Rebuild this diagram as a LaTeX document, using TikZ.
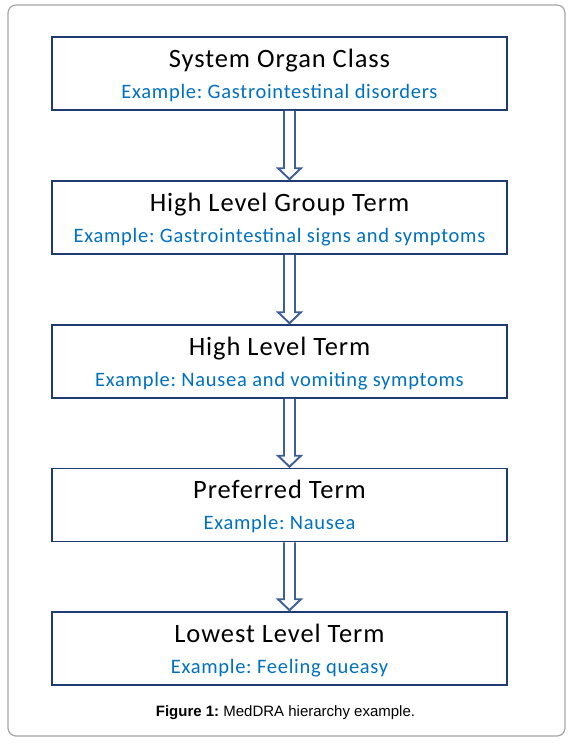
\documentclass[tikz,border=0pt]{standalone}
\usepackage{fontspec}
\setmainfont{Carlito}
\newfontfamily\spacedfont[LetterSpace=3.5]{Carlito}
\newfontfamily\capfont{Liberation Sans}
\usetikzlibrary{calc}
\frenchspacing
\definecolor{boxblue}{HTML}{1F3B73}
\definecolor{arrowblue}{HTML}{3C5F97}
\definecolor{exblue}{HTML}{0070C0}
\definecolor{framegray}{HTML}{A6A6A6}
\tikzset{
  levelbox/.style={draw=boxblue, line width=1.6pt, minimum width=455pt, minimum height=73pt, inner sep=0pt},
  titletext/.style={font=\spacedfont\fontsize{26.5}{30}\selectfont\frenchspacing, text=black, inner sep=0pt, anchor=base},
  extext/.style={font=\spacedfont\fontsize{20.5}{23}\selectfont\frenchspacing, text=exblue, inner sep=0pt, anchor=base},
  blockarrow/.style={draw=arrowblue, line width=1.9pt, fill=white, line join=miter},
}
\newcommand{\blockarr}[2]{%
  \draw[blockarrow] ($(#1.south)+(4.5,0)$) -- ($(#2.north)+(4.5,-12)$) -- ($(#2.north)+(-1.5,-12)$)
    -- ($(#2.north)+(10,-1)$) -- ($(#2.north)+(21.5,-12)$) -- ($(#2.north)+(15.5,-12)$)
    -- ($(#1.south)+(15.5,0)$);}
\begin{document}
\begin{tikzpicture}[x=1pt,y=-1pt]
\useasboundingbox (0,0) rectangle (572,744);
\draw[framegray, line width=1.2pt, rounded corners=8pt] (8,5) rectangle (565,736);
\node[levelbox] (b1) at (279.5,73.5) {};
\node[levelbox] (b2) at (279.5,217.5) {};
\node[levelbox] (b3) at (279.5,361.5) {};
\node[levelbox] (b4) at (279.5,505) {};
\node[levelbox] (b5) at (279.5,648.5) {};
\node[titletext] (t1) at (279.5,67) {System Organ Class};
\node[extext] (e1) at (279.5,98) {Example: Gastrointestinal disorders};
\node[titletext] (t2) at (279.5,211) {High Level Group Term};
\node[extext] (e2) at (279.5,242) {Example: Gastrointestinal signs and symptoms};
\node[titletext] (t3) at (279.5,355) {High Level Term};
\node[extext] (e3) at (279.5,386) {Example: Nausea and vomiting symptoms};
\node[titletext] (t4) at (279.5,498.5) {Preferred Term};
\node[extext] (e4) at (279.5,529.5) {Example: Nausea};
\node[titletext] (t5) at (279.5,642) {Lowest Level Term};
\node[extext] (e5) at (279.5,673) {Example: Feeling queasy};
\blockarr{b1}{b2}
\blockarr{b2}{b3}
\blockarr{b3}{b4}
\blockarr{b4}{b5}
\node[font=\capfont\fontsize{15}{17}\selectfont\frenchspacing, inner sep=0pt, anchor=base] (cap) at (285.5,716) {\textbf{Figure 1:} MedDRA hierarchy example.};
\end{tikzpicture}
\end{document}
